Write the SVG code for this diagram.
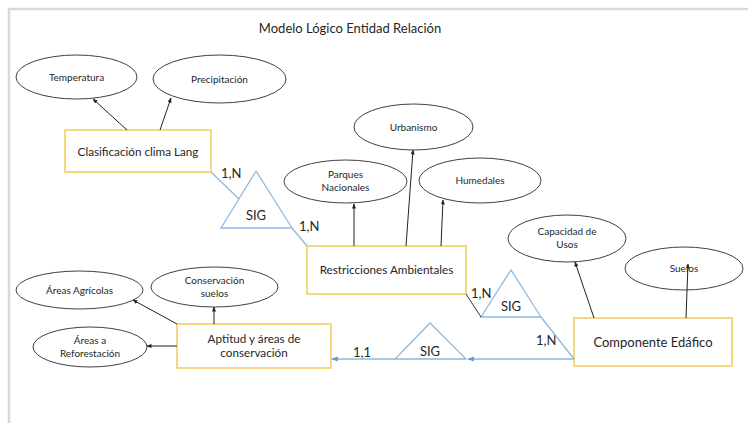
<svg xmlns="http://www.w3.org/2000/svg" width="748" height="423" viewBox="0 0 748 423">
<defs>
<marker id="ah" viewBox="0 0 10 10" refX="9" refY="5" markerWidth="5" markerHeight="5" orient="auto"><path d="M0,1 L10,5 L0,9 z" fill="#222"/></marker>
<marker id="bh" viewBox="0 0 10 10" refX="9" refY="5" markerWidth="5" markerHeight="5" orient="auto"><path d="M0,1 L10,5 L0,9 z" fill="#5b9bd5"/></marker>
<style>
.t{font-family:"Lato","Liberation Sans",sans-serif;fill:#262626;text-anchor:middle}
.el{fill:#fff;stroke:#404040;stroke-width:1}
.bx{fill:#fff;stroke:#f3cd55;stroke-width:1.5}
.tri{fill:#fff;stroke:#8fb8e0;stroke-width:1.3}
.bl{stroke:#8fb8e0;stroke-width:1.3;fill:none}
.ar{stroke:#222;stroke-width:1;fill:none;marker-end:url(#ah)}
.s{font-size:10px}
.m{font-size:11.7px}
.g{font-size:13px}
.l{font-size:13px;text-anchor:start}
</style>
</defs>
<rect width="748" height="423" fill="#fff"/>
<path d="M9,423 V9 H748" fill="none" stroke="#d9d9d9" stroke-width="2.5"/>
<text class="t" x="350" y="33" style="font-size:13px">Modelo Lógico Entidad Relación</text>

<g id="temperatura"><ellipse class="el" cx="76.5" cy="77" rx="60.5" ry="22"/><text class="t s" x="76.5" y="80.5">Temperatura</text></g>
<g id="precipitacion"><ellipse class="el" cx="219.5" cy="79" rx="66.5" ry="24"/><text class="t s" x="219.5" y="82.5">Precipitación</text></g>
<g id="clasificacion"><rect class="bx" x="65" y="130" width="146" height="42"/><text class="t m" x="138" y="156">Clasificación clima Lang</text></g>

<g id="sig1"><path class="tri" d="M256,171 L221,228 L292,228 z"/><text class="t g" x="256" y="219.5">SIG</text></g>
<text class="t l" x="221" y="178">1,N</text>
<text class="t l" x="299" y="231">1,N</text>

<g id="urbanismo"><ellipse class="el" cx="413.5" cy="127" rx="59.5" ry="23"/><text class="t s" x="413.5" y="130.5">Urbanismo</text></g>
<g id="parques"><ellipse class="el" cx="345.5" cy="181.5" rx="61.5" ry="21.5"/><text class="t s" x="345.5" y="178">Parques</text><text class="t s" x="345.5" y="191">Nacionales</text></g>
<g id="humedales"><ellipse class="el" cx="480" cy="180.5" rx="61" ry="22.5"/><text class="t s" x="480" y="184">Humedales</text></g>
<g id="restricciones"><rect class="bx" x="307" y="246" width="159" height="48"/><text class="t m" x="386.5" y="274">Restricciones Ambientales</text></g>

<g id="sig2"><path class="tri" d="M511,270 L481,317 L541,317 z"/><text class="t g" x="511" y="310.5">SIG</text></g>
<text class="t l" x="471" y="298">1,N</text>
<text class="t l" x="536" y="345">1,N</text>

<g id="capacidad"><ellipse class="el" cx="567" cy="238.5" rx="59" ry="23.5"/><text class="t s" x="567" y="235">Capacidad de</text><text class="t s" x="567" y="248">Usos</text></g>
<g id="suelos"><ellipse class="el" cx="684" cy="268.5" rx="59" ry="21.5"/><text class="t s" x="684" y="271.5">Suelos</text></g>
<g id="componente"><rect class="bx" x="574" y="318" width="158" height="48"/><text class="t" x="653" y="346.5" style="font-size:13px">Componente Edáfico</text></g>

<g id="sig3"><path class="tri" d="M430,323 L395,359 L466,359 z"/><text class="t g" x="430" y="355.5">SIG</text></g>
<text class="t l" x="353" y="357">1,1</text>

<g id="agricolas"><ellipse class="el" cx="79.5" cy="290" rx="63.5" ry="19"/><text class="t s" x="79.5" y="293.5">Áreas Agrícolas</text></g>
<g id="conservacion"><ellipse class="el" cx="214.5" cy="287" rx="63.5" ry="20"/><text class="t s" x="214.5" y="283.5">Conservación</text><text class="t s" x="214.5" y="296.5">suelos</text></g>
<g id="reforestacion"><ellipse class="el" cx="90" cy="347" rx="57" ry="20"/><text class="t s" x="90" y="343.5">Áreas a</text><text class="t s" x="90" y="356.5">Reforestación</text></g>
<g id="aptitud"><rect class="bx" x="177" y="324" width="154" height="44"/><text class="t m" x="254" y="342.5">Aptitud y áreas de</text><text class="t m" x="254" y="357">conservación</text></g>

<g id="connectors">
<path class="ar" d="M127,130 L93,99"/>
<path class="ar" d="M160,130 L171,98"/>
<path class="bl" d="M211,172 L239,199"/>
<path class="bl" d="M292,228 L307,246"/>
<path class="ar" d="M354,246 L354,204"/>
<path class="ar" d="M406,246 L413,150"/>
<path class="ar" d="M441,246 L443,200"/>
<path d="M466,294 L481,317" stroke="#333" stroke-width="1" fill="none"/>
<path class="bl" d="M541,317 L574,359"/>
<path class="ar" d="M594,318 L575,262"/>
<path class="ar" d="M686,318 L688,264"/>
<path class="bl" d="M574,359 L468,359" marker-end="url(#bh)"/>
<path class="bl" d="M395,359 L332,359" marker-end="url(#bh)"/>
<path class="ar" d="M177,324 L133,300"/>
<path class="ar" d="M214,324 L214,307"/>
<path class="ar" d="M177,346 L147,346"/>
</g>
</svg>
